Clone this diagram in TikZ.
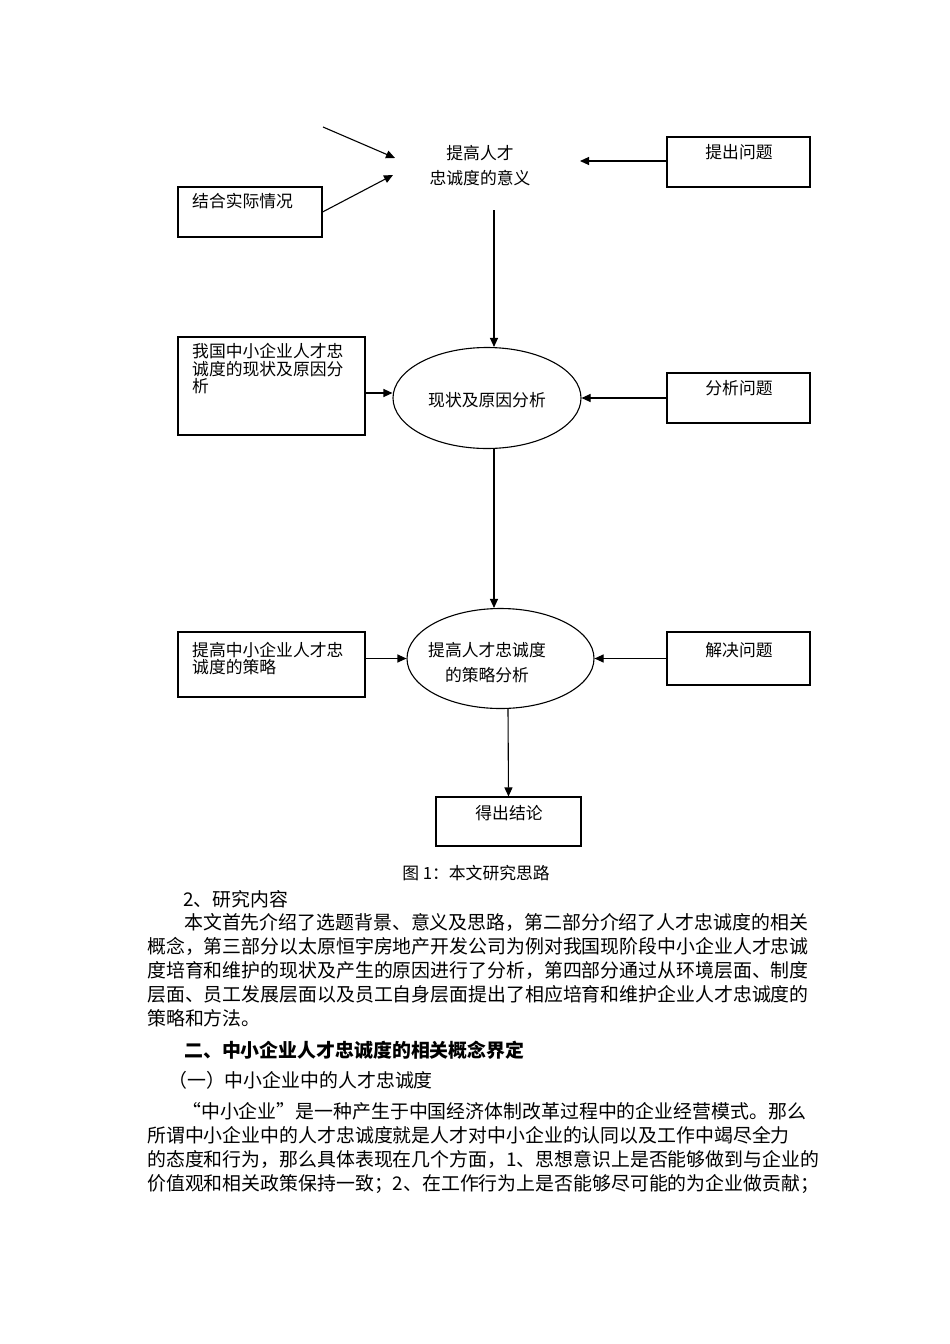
\documentclass[tikz,border=0pt]{standalone}
\usepackage{fontspec}
\setmainfont{Noto Sans CJK SC}
\usetikzlibrary{arrows.meta,shapes.geometric}
\XeTeXlinebreaklocale "zh"
\XeTeXlinebreakskip=0pt plus 3pt minus 1pt
\tikzset{
  box/.style={draw, line width=1.1pt, rectangle, inner sep=0pt},
  oval/.style={draw, line width=1.1pt, ellipse, inner sep=0pt},
  arr/.style={line width=1.1pt, -{Triangle[length=9pt,width=8pt]}},
  dtext/.style={inner sep=0pt, font=\fontsize{16.8}{17.5}\selectfont},
  btext/.style={inner sep=0pt, font=\fontsize{18.9}{24}\selectfont, anchor=base west},
}
\begin{document}
\begin{tikzpicture}[x=1pt,y=-1pt]
\useasboundingbox[fill=white] (0,0) rectangle (950,1344);

% ---------- top level ----------
\node[dtext, anchor=base] (t0a) at (480,159) {提高人才};
\node[dtext, anchor=base] (t0b) at (480,184) {忠诚度的意义};
\coordinate (fin) at (323,127);
\coordinate (in1) at (395,158);
\coordinate (in2) at (393,175);
\coordinate (in3) at (580,161);
\coordinate (down0) at (494,210);

\node[box, minimum width=144pt, minimum height=50pt] (b1) at (250,212) {};
\node[dtext, anchor=base west] (b1t) at (192,207) {结合实际情况};

\node[box, minimum width=143pt, minimum height=50pt] (b2) at (738.5,162) {};
\node[dtext, anchor=base] (b2t) at (739,158) {提出问题};

\draw[arr] (fin) -- (in1);
\draw[arr] (b1.east) -- (in2);
\draw[arr] (b2.west |- in3) -- (in3);

% ---------- second level ----------
\node[oval, minimum width=188pt, minimum height=101pt] (e1) at (487,398) {};
\node[dtext, anchor=base] (e1t) at (487,406) {现状及原因分析};

\node[box, minimum width=187pt, minimum height=98pt] (b3) at (271.5,386) {};
\node[dtext, anchor=base west] (b3a) at (192,357) {我国中小企业人才忠};
\node[dtext, anchor=base west] (b3b) at (192,375) {诚度的现状及原因分};
\node[dtext, anchor=base west] (b3c) at (192,392) {析};

\node[box, minimum width=143pt, minimum height=50pt] (b4) at (738.5,398) {};
\node[dtext, anchor=base] (b4t) at (739,394) {分析问题};

\draw[arr] (down0) -- ([xshift=7pt]e1.north);
\draw[arr] (b3.east |- 0,393) -- ([yshift=5pt]e1.west);
\draw[arr] (b4.west |- e1.east) -- (e1.east);

% ---------- third level ----------
\node[oval, minimum width=187pt, minimum height=100pt] (e2) at (500.5,658.5) {};
\node[dtext, anchor=base] (e2a) at (487,656) {提高人才忠诚度};
\node[dtext, anchor=base] (e2b) at (487,681) {的策略分析};

\node[box, minimum width=187pt, minimum height=65pt] (b5) at (271.5,664.5) {};
\node[dtext, anchor=base west] (b5a) at (192,656) {提高中小企业人才忠};
\node[dtext, anchor=base west] (b5b) at (192,673) {诚度的策略};

\node[box, minimum width=143pt, minimum height=53pt] (b6) at (738.5,658.5) {};
\node[dtext, anchor=base] (b6t) at (739,656) {解决问题};

\draw[arr] ([xshift=7pt]e1.south) -- ([xshift=-6.5pt]e2.north);
\draw[arr] (b5.east |- e2.west) -- (e2.west);
\draw[arr] (b6.west |- e2.east) -- (e2.east);

% ---------- conclusion ----------
\node[box, minimum width=145pt, minimum height=49pt] (b7) at (508.5,821.5) {};
\node[dtext, anchor=base] (b7t) at (509,819) {得出结论};
\draw[arr] ([xshift=7.5pt]e2.south) -- (b7.north);

\node[dtext, anchor=base] (cap) at (476,879) {图 1：本文研究思路};

% ---------- body text ----------
\node[btext] (l1) at (183,906) {2、研究内容};
\node[btext] (l2) at (184,929) {\hbox to 623pt{本文首先介绍了选题背景、意义及思路，第二部分介绍了人才忠诚度的相关}};
\node[btext] (l3) at (147,953) {\hbox to 660pt{概念，第三部分以太原恒宇房地产开发公司为例对我国现阶段中小企业人才忠诚}};
\node[btext] (l4) at (147,977) {\hbox to 660pt{度培育和维护的现状及产生的原因进行了分析，第四部分通过从环境层面、制度}};
\node[btext] (l5) at (147,1001) {\hbox to 660pt{层面、员工发展层面以及员工自身层面提出了相应培育和维护企业人才忠诚度的}};
\node[btext] (l6) at (147,1025) {策略和方法。};
\node[btext, font=\fontsize{18.9}{24}\selectfont\bfseries] (h1) at (184,1057) {二、中小企业人才忠诚度的相关概念界定};
\node[btext] (h2) at (168,1087) {（一）中小企业中的人才忠诚度};
\node[btext] (m1) at (182,1118) {\hbox to 625pt{“中小企业”是一种产生于中国经济体制改革过程中的企业经营模式。那么}};
\node[btext] (m2) at (147,1142) {\hbox to 660pt{所谓中小企业中的人才忠诚度就是人才对中小企业的认同以及工作中竭尽全力}};
\node[btext] (m3) at (147,1166) {\hbox to 660pt{的态度和行为，那么具体表现在几个方面，1、思想意识上是否能够做到与企业的}};
\node[btext] (m4) at (147,1190) {\hbox to 660pt{价值观和相关政策保持一致；2、在工作行为上是否能够尽可能的为企业做贡献；}};
\end{tikzpicture}
\end{document}
